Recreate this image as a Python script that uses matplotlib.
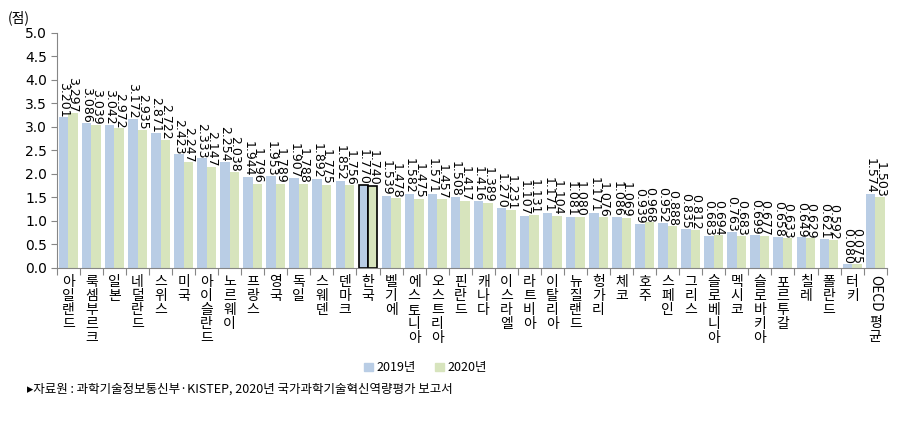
import numpy as np
import matplotlib.pyplot as plt
from matplotlib.patches import Patch

plt.rcParams['font.family'] = ['Noto Sans CJK KR', 'DejaVu Sans']

countries = ['아일랜드', '룩셈부르크', '일본', '네덜란드', '스위스', '미국', '아이슬란드', '노르웨이',
             '프랑스', '영국', '독일', '스웨덴', '덴마크', '한국', '벨기에', '에스토니아', '오스트리아',
             '핀란드', '캐나다', '이스라엘', '라트비아', '이탈리아', '뉴질랜드', '헝가리', '체코', '호주',
             '스페인', '그리스', '슬로베니아', '멕시코', '슬로바키아', '포르투갈', '칠레', '폴란드', '터키',
             'OECD 평균']
v2019 = [3.201, 3.086, 3.042, 3.172, 2.871, 2.423, 2.333, 2.254, 1.944, 1.953, 1.907, 1.892, 1.852,
         1.770, 1.539, 1.582, 1.571, 1.508, 1.416, 1.270, 1.107, 1.171, 1.081, 1.171, 1.086, 0.939,
         0.952, 0.835, 0.683, 0.763, 0.699, 0.658, 0.649, 0.621, 0.080, 1.574]
v2020 = [3.297, 3.039, 2.972, 2.935, 2.722, 2.247, 2.147, 2.038, 1.796, 1.789, 1.788, 1.775, 1.756,
         1.740, 1.478, 1.475, 1.457, 1.417, 1.389, 1.231, 1.131, 1.104, 1.080, 1.076, 1.069, 0.968,
         0.888, 0.812, 0.694, 0.683, 0.677, 0.633, 0.629, 0.592, 0.075, 1.503]

c19 = '#B9CDE5'
c20 = '#D7E4BD'
x = np.arange(len(countries))
w = 0.41

fig = plt.figure(figsize=(9.02, 4.22), dpi=100)
ax = fig.add_axes([0.063, 0.365, 0.920, 0.557])

b1 = ax.bar(x - w/2, v2019, w, color=c19)
b2 = ax.bar(x + w/2, v2020, w, color=c20)
k = countries.index('한국')
for b in (b1[k], b2[k]):
    b.set_edgecolor('black')
    b.set_linewidth(1.2)

for i in range(len(x)):
    ax.text(x[i] - w/2, v2019[i], '{:.3f}'.format(v2019[i]), rotation=270,
            ha='center', va='bottom', fontsize=9, family='DejaVu Sans')
    ax.text(x[i] + w/2, v2020[i], '{:.3f}'.format(v2020[i]), rotation=270,
            ha='center', va='bottom', fontsize=9, family='DejaVu Sans')

ax.set_xlim(-0.5, len(x) - 0.5)
ax.set_ylim(0, 5.0)
ax.set_yticks(np.arange(0, 5.01, 0.5))
ax.set_yticklabels(['{:.1f}'.format(t) for t in np.arange(0, 5.01, 0.5)], fontsize=10,
                   family='DejaVu Sans')

for s in ['top', 'right']:
    ax.spines[s].set_visible(False)
for s in ['left', 'bottom']:
    ax.spines[s].set_color('#868686')
ax.tick_params(axis='y', direction='out', length=4, color='#868686', pad=3)

# tick marks between the country groups
ax.set_xticks(np.arange(-0.5, len(x), 1.0))
ax.set_xticklabels([])
ax.tick_params(axis='x', direction='out', length=5, color='#868686')

labels = ['\n'.join(c) for c in countries[:-1]]
for i, lab in enumerate(labels):
    ax.text(x[i], -0.028, lab, transform=ax.get_xaxis_transform(), ha='center', va='top',
            fontsize=10, linespacing=1.0)
ax.text(x[-1], -0.028, 'OECD', transform=ax.get_xaxis_transform(), ha='center', va='top',
        fontsize=10, rotation=270)
ax.text(x[-1], -0.205, '평\n균', transform=ax.get_xaxis_transform(), ha='center', va='top',
        fontsize=10, linespacing=1.0)

fig.text(0.009, 0.975, '(점)', fontsize=10, va='top', ha='left')

handles = [Patch(color=c19), Patch(color=c20)]
fig.legend(handles, ['2019년', '2020년'], loc='center', bbox_to_anchor=(0.472, 0.128),
           ncol=2, frameon=False, fontsize=9, handlelength=0.7, handleheight=0.7,
           handletextpad=0.3, columnspacing=1.5)

fig.text(0.03, 0.077, '▸자료원 : 과학기술정보통신부·KISTEP, 2020년 국가과학기술혁신역량평가 보고서',
         fontsize=9, va='center', ha='left')

fig.savefig('out.png', dpi=100)
